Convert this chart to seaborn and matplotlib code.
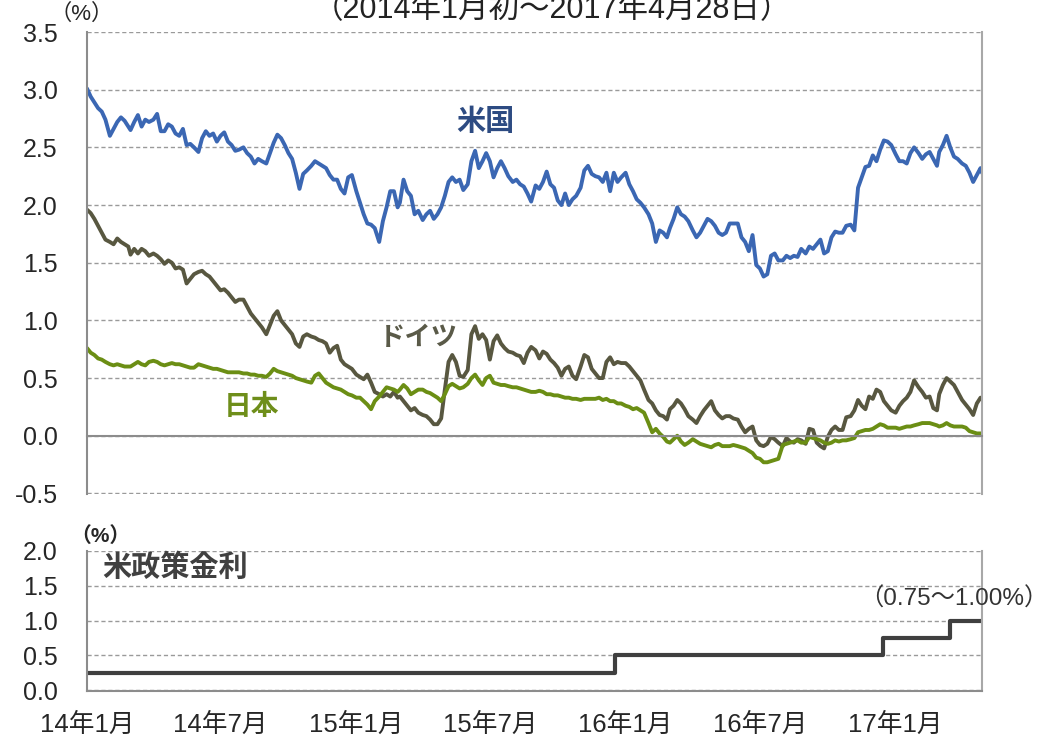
import pandas as pd
import matplotlib.pyplot as plt
import seaborn as sns

# Estilo geral
sns.set_style("white")
plt.rcParams['font.family'] = ['Liberation Sans', 'Noto Sans CJK JP', 'DejaVu Sans']

# Datas: dias 1, 6, 11, 16, 21 e 26 de cada mês + último dia (2017-04-28)
meses = pd.date_range('2014-01-01', '2017-04-01', freq='MS')
datas = [m + pd.Timedelta(days=d) for m in meses for d in (0, 5, 10, 15, 20, 25)]
datas.append(pd.Timestamp('2017-04-28'))

# 米国 10年債利回り (%) - uma linha por mês
us = [
    3.01, 2.94, 2.89, 2.84, 2.81, 2.74,
    2.60, 2.66, 2.72, 2.76, 2.73, 2.68,
    2.65, 2.72, 2.78, 2.68, 2.74, 2.72,
    2.74, 2.79, 2.64, 2.64, 2.70, 2.68,
    2.62, 2.60, 2.66, 2.52, 2.53, 2.50,
    2.46, 2.58, 2.64, 2.60, 2.62, 2.55,
    2.60, 2.63, 2.55, 2.52, 2.47, 2.48,
    2.50, 2.45, 2.42, 2.36, 2.40, 2.38,
    2.36, 2.45, 2.54, 2.61, 2.58, 2.52,
    2.45, 2.40, 2.28, 2.14, 2.27, 2.30,
    2.34, 2.38, 2.36, 2.34, 2.32, 2.26,
    2.22, 2.22, 2.14, 2.10, 2.24, 2.26,
    2.12, 2.02, 1.92, 1.84, 1.83, 1.80,
    1.68, 1.86, 1.98, 2.12, 2.12, 1.98,
    2.02, 2.22, 2.12, 2.08, 1.92, 1.95,
    1.87, 1.92, 1.95, 1.88, 1.92, 1.98,
    2.08, 2.20, 2.24, 2.20, 2.22, 2.13,
    2.18, 2.38, 2.47, 2.32, 2.38, 2.45,
    2.38, 2.24, 2.32, 2.38, 2.32, 2.25,
    2.20, 2.22, 2.18, 2.16, 2.10, 2.03,
    2.17, 2.14, 2.20, 2.29, 2.18, 2.15,
    2.04, 2.00, 2.10, 2.00, 2.05, 2.08,
    2.15, 2.30, 2.34, 2.27, 2.25, 2.24,
    2.20, 2.28, 2.12, 2.28, 2.20, 2.24,
    2.28, 2.18, 2.12, 2.05, 2.02, 1.98,
    1.92, 1.84, 1.68, 1.78, 1.76, 1.72,
    1.80, 1.88, 1.98, 1.92, 1.90, 1.86,
    1.78, 1.72, 1.76, 1.82, 1.88, 1.86,
    1.82, 1.76, 1.74, 1.76, 1.84, 1.84,
    1.84, 1.72, 1.68, 1.60, 1.74, 1.48,
    1.45, 1.38, 1.40, 1.56, 1.58, 1.52,
    1.52, 1.56, 1.54, 1.56, 1.55, 1.62,
    1.58, 1.64, 1.62, 1.66, 1.70, 1.58,
    1.60, 1.72, 1.77, 1.76, 1.76, 1.82,
    1.83, 1.78, 2.15, 2.24, 2.33, 2.34,
    2.43, 2.38, 2.48, 2.56, 2.55, 2.52,
    2.44, 2.38, 2.38, 2.36, 2.45, 2.50,
    2.45, 2.40, 2.44, 2.46, 2.40, 2.34,
    2.46, 2.52, 2.60, 2.50, 2.42, 2.40,
    2.36, 2.34, 2.28, 2.20, 2.26, 2.32,
    2.28,
]

# ドイツ
de = [
    1.96, 1.93, 1.88, 1.82, 1.76, 1.70,
    1.68, 1.66, 1.71, 1.68, 1.66, 1.64,
    1.57, 1.62, 1.58, 1.62, 1.60, 1.56,
    1.58, 1.56, 1.53, 1.49, 1.52, 1.50,
    1.45, 1.46, 1.44, 1.32, 1.36, 1.40,
    1.42, 1.43, 1.40, 1.38, 1.34, 1.30,
    1.26, 1.27, 1.24, 1.20, 1.16, 1.18,
    1.18, 1.12, 1.06, 1.02, 0.98, 0.94,
    0.88, 0.96, 1.04, 1.08, 1.00, 0.96,
    0.92, 0.88, 0.80, 0.77, 0.86, 0.88,
    0.86, 0.85, 0.83, 0.82, 0.80, 0.72,
    0.76, 0.78, 0.66, 0.62, 0.60, 0.58,
    0.53, 0.51, 0.49, 0.53, 0.46, 0.38,
    0.36, 0.34, 0.36, 0.34, 0.38, 0.33,
    0.34, 0.30, 0.26, 0.22, 0.24, 0.20,
    0.18, 0.17, 0.14, 0.10, 0.10, 0.15,
    0.40, 0.64, 0.70, 0.64, 0.52, 0.51,
    0.57, 0.88, 0.95, 0.84, 0.88, 0.83,
    0.66, 0.82, 0.87, 0.80, 0.76, 0.73,
    0.72, 0.70, 0.69, 0.63, 0.72, 0.77,
    0.74, 0.67, 0.73, 0.71, 0.66, 0.63,
    0.59, 0.52, 0.58, 0.60, 0.52, 0.49,
    0.60, 0.70, 0.68, 0.58, 0.54, 0.50,
    0.50, 0.64, 0.68, 0.62, 0.64, 0.63,
    0.63, 0.60, 0.56, 0.52, 0.48, 0.40,
    0.31, 0.28, 0.22, 0.18, 0.17, 0.14,
    0.23, 0.26, 0.31, 0.28, 0.23, 0.17,
    0.14, 0.11, 0.17, 0.22, 0.26, 0.30,
    0.22, 0.18, 0.15, 0.17, 0.17, 0.15,
    0.14, 0.08, 0.03, 0.06, 0.08, -0.04,
    -0.08, -0.09, -0.07, -0.01, -0.03, -0.06,
    -0.09, -0.02, -0.05, -0.06, -0.03, -0.04,
    -0.07, 0.06, 0.05, -0.06, -0.09, -0.11,
    -0.01, 0.05, 0.08, 0.05, 0.05, 0.16,
    0.17, 0.22, 0.31, 0.26, 0.23, 0.34,
    0.32, 0.40, 0.38, 0.30, 0.26, 0.22,
    0.20, 0.26, 0.30, 0.33, 0.38, 0.48,
    0.42, 0.38, 0.33, 0.34, 0.24, 0.22,
    0.36, 0.44, 0.50, 0.47, 0.44, 0.38,
    0.31, 0.27, 0.23, 0.18, 0.28, 0.33,
    0.32,
]

# 日本
jp = [
    0.76, 0.72, 0.70, 0.67, 0.66, 0.64,
    0.62, 0.61, 0.62, 0.61, 0.60, 0.60,
    0.60, 0.62, 0.64, 0.62, 0.61, 0.64,
    0.65, 0.64, 0.62, 0.61, 0.62, 0.63,
    0.62, 0.62, 0.61, 0.60, 0.59, 0.59,
    0.62, 0.61, 0.60, 0.59, 0.58, 0.58,
    0.57, 0.56, 0.55, 0.55, 0.55, 0.55,
    0.54, 0.54, 0.53, 0.53, 0.52, 0.52,
    0.51, 0.54, 0.58, 0.56, 0.55, 0.54,
    0.53, 0.52, 0.50, 0.49, 0.48, 0.47,
    0.46, 0.52, 0.54, 0.50, 0.46, 0.44,
    0.42, 0.41, 0.40, 0.38, 0.36, 0.35,
    0.33, 0.33, 0.30, 0.27, 0.23, 0.30,
    0.34, 0.38, 0.42, 0.41, 0.40, 0.38,
    0.40, 0.44, 0.41, 0.36, 0.38, 0.40,
    0.40, 0.38, 0.37, 0.35, 0.33, 0.30,
    0.36, 0.43, 0.45, 0.43, 0.41, 0.42,
    0.45, 0.50, 0.53, 0.48, 0.44, 0.50,
    0.52, 0.46, 0.45, 0.44, 0.44, 0.43,
    0.42, 0.42, 0.41, 0.40, 0.39, 0.38,
    0.38, 0.39, 0.38, 0.36, 0.36, 0.35,
    0.35, 0.34, 0.33, 0.33, 0.32, 0.32,
    0.31, 0.32, 0.32, 0.32, 0.32, 0.33,
    0.31, 0.32, 0.30, 0.30, 0.28, 0.28,
    0.26, 0.25, 0.23, 0.24, 0.22, 0.20,
    0.11, 0.03, 0.06, 0.02, -0.01, -0.05,
    -0.06, -0.03, 0.00, -0.05, -0.08, -0.06,
    -0.03, -0.05, -0.07, -0.08, -0.09, -0.10,
    -0.08, -0.07, -0.09, -0.09, -0.09, -0.08,
    -0.09, -0.10, -0.11, -0.13, -0.15, -0.19,
    -0.20, -0.23, -0.23, -0.22, -0.21, -0.20,
    -0.08, -0.07, -0.06, -0.05, -0.04, -0.06,
    -0.06, -0.01, -0.02, -0.03, -0.04, -0.06,
    -0.07, -0.06, -0.04, -0.05, -0.04, -0.04,
    -0.03, -0.02, 0.03, 0.04, 0.05, 0.05,
    0.06, 0.08, 0.10, 0.09, 0.07, 0.07,
    0.07, 0.06, 0.07, 0.08, 0.08, 0.09,
    0.10, 0.11, 0.11, 0.11, 0.10, 0.09,
    0.08, 0.09, 0.11, 0.09, 0.08, 0.08,
    0.08, 0.07, 0.04, 0.03, 0.02, 0.02,
    0.02,
]

# 米政策金利 (上限)
fed_datas = ['2014-01-01', '2015-12-17', '2016-12-15', '2017-03-16', '2017-04-28']
fed_taxa = [0.25, 0.50, 0.75, 1.00, 1.00]

tick_datas = ['2014-01-01', '2014-07-01', '2015-01-01', '2015-07-01',
              '2016-01-01', '2016-07-01', '2017-01-01']
tick_labels = ['14年1月', '14年7月', '15年1月', '15年7月', '16年1月', '16年7月', '17年1月']

top_yticks = [-0.5, 0.0, 0.5, 1.0, 1.5, 2.0, 2.5, 3.0, 3.5]
bot_yticks = [0.0, 0.5, 1.0, 1.5, 2.0]

assert len(us) == len(de) == len(jp) == len(datas)

df = pd.DataFrame({'date': datas, 'us': us, 'de': de, 'jp': jp})
fed = pd.DataFrame({'date': pd.to_datetime(fed_datas), 'rate': fed_taxa})

C_US, C_DE, C_JP, C_FED = '#3b67b3', '#585740', '#6b8e14', '#3f3f3f'
C_AX = '#8c8c8c'
W, H = 1048, 739

fig = plt.figure(figsize=(W / 100, H / 100), dpi=100)
ax1 = fig.add_axes([87 / W, 1 - 494 / H, 895 / W, 462 / H])
ax2 = fig.add_axes([87 / W, 1 - 690.7 / H, 895 / W, 140 / H])

# --- painel superior: juros de 10 anos
sns.lineplot(data=df, x='date', y='us', ax=ax1, color=C_US, lw=2.8)
sns.lineplot(data=df, x='date', y='de', ax=ax1, color=C_DE, lw=2.8)
sns.lineplot(data=df, x='date', y='jp', ax=ax1, color=C_JP, lw=2.8)

# --- painel inferior: taxa do Fed
sns.lineplot(data=fed, x='date', y='rate', ax=ax2, color=C_FED, lw=3,
             drawstyle='steps-post')

xmin, xmax = pd.Timestamp('2014-01-01'), pd.Timestamp('2017-04-28')
ticks_x = pd.to_datetime(tick_datas)

for ax, yt in ((ax1, top_yticks), (ax2, bot_yticks)):
    ax.set_xlim(xmin, xmax)
    ax.set_ylim(yt[0] - 0.005, yt[-1])
    ax.set_yticks(yt)
    ax.set_yticklabels([f'{v:.1f}' for v in yt])
    ax.set_xticks(ticks_x)
    ax.set_xlabel('')
    ax.set_ylabel('')
    ax.grid(axis='y', linestyle=(0, (3, 2)), color='#9a9a9a', lw=1)
    ax.set_axisbelow(True)
    ax.spines['top'].set_visible(False)
    ax.spines['right'].set_color('#a8a8a8')
    ax.spines['right'].set_linewidth(1.5)
    ax.spines['left'].set_color(C_AX)
    ax.spines['left'].set_linewidth(1.5)
    ax.spines['bottom'].set_color(C_AX)
    ax.spines['bottom'].set_linewidth(1.5)
    ax.tick_params(axis='y', length=5, width=1, color=C_AX, pad=16, labelsize=18)

# eixo zero do painel superior com marcas, sem rótulos
ax1.spines['bottom'].set_position(('data', 0))
ax1.tick_params(axis='x', length=6, width=1, color=C_AX, direction='out', labelbottom=False)

ax2.set_xticklabels(tick_labels)
ax2.tick_params(axis='x', length=8, width=1, color=C_AX, direction='out', pad=8, labelsize=18.5)

# rótulos das séries
ax1.text(0.445, 0.805, '米国', transform=ax1.transAxes, ha='center', va='center',
         fontsize=21, fontweight='bold', color='#2d4b82')
ax1.text(0.370, 0.338, 'ドイツ', transform=ax1.transAxes, ha='center', va='center',
         fontsize=19, fontweight='bold', color='#5a5a48')
ax1.text(0.184, 0.186, '日本', transform=ax1.transAxes, ha='center', va='center',
         fontsize=20, fontweight='bold', color='#6e8e1a')
ax2.text(0.098, 0.876, '米政策金利', transform=ax2.transAxes, ha='center', va='center',
         fontsize=21, fontweight='bold', color='#404040')
ax2.text(0.968, 0.655, '（0.75～1.00%）', transform=ax2.transAxes, ha='center', va='center',
         fontsize=17.5, color='#333333')

# título (cortado no topo, como no original) e unidades
fig.text(552 / W, 1 - 18 / H, '（2014年1月初～2017年4月28日）', ha='center', va='baseline',
         fontsize=22, color='#222222')
fig.text(82 / W, 1 - 14 / H, '（%）', ha='center', va='center', fontsize=16)
fig.text(100 / W, 1 - 536 / H, '（%）', ha='center', va='center', fontsize=15, fontweight='bold')

fig.savefig('out.png', dpi=100)
